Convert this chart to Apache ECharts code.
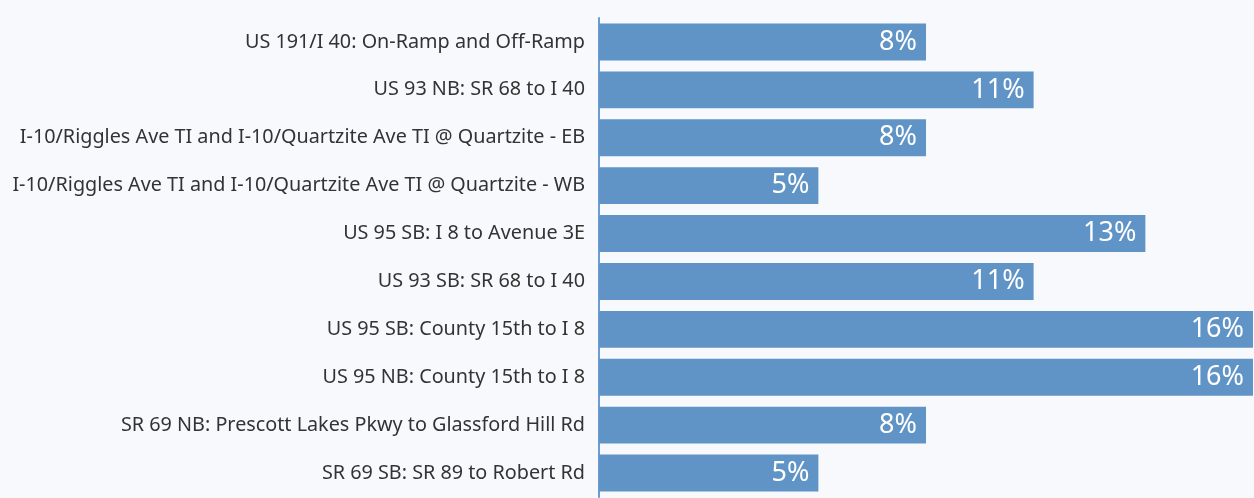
<!DOCTYPE html>
<html>
<head>
<meta charset="utf-8">
<script src="https://cdn.jsdelivr.net/npm/echarts@6/dist/echarts.min.js"></script>
<style>
  html, body { margin: 0; padding: 0; background: #f7f9fc; }
  #chart { width: 1254px; height: 498px; }
</style>
</head>
<body>
<div id="chart"></div>
<script>
// categories top to bottom
const categories = [
    'US 191/I 40: On-Ramp and Off-Ramp',
    'US 93 NB: SR 68 to I 40',
    'I-10/Riggles Ave TI and I-10/Quartzite Ave TI @ Quartzite - EB',
    'I-10/Riggles Ave TI and I-10/Quartzite Ave TI @ Quartzite - WB',
    'US 95 SB: I 8 to Avenue 3E',
    'US 93 SB: SR 68 to I 40',
    'US 95 SB: County 15th to I 8',
    'US 95 NB: County 15th to I 8',
    'SR 69 NB: Prescott Lakes Pkwy to Glassford Hill Rd',
    'SR 69 SB: SR 89 to Robert Rd'
];
// share in percent (bar lengths)
const shares = [7.9, 10.5, 7.9, 5.3, 13.2, 10.5, 15.8, 15.8, 7.9, 5.3];

const chart = echarts.init(document.getElementById('chart'));

chart.setOption({
    backgroundColor: '#f7f9fc',
    animation: false,
    grid: {
        left: 599,
        right: 1,
        top: 18,
        bottom: 1
    },
    xAxis: {
        type: 'value',
        min: 0,
        max: 'dataMax',
        show: false
    },
    yAxis: {
        type: 'category',
        inverse: true,
        data: categories,
        axisLine: {
            show: true,
            lineStyle: { color: '#6f9cce', width: 2 }
        },
        axisTick: { show: false },
        axisLabel: {
            color: '#333',
            fontSize: 19.8,
            fontFamily: 'Noto Sans',
            margin: 14
        }
    },
    series: [{
        type: 'bar',
        data: shares,
        barCategoryGap: '23%',
        itemStyle: { color: '#6194c6' },
        label: {
            show: true,
            position: 'insideRight',
            color: '#fff',
            fontSize: 27,
            fontFamily: 'Noto Sans',
            distance: 9,
            formatter: p => Math.round(p.value) + '%'
        }
    }]
});
</script>
</body>
</html>
